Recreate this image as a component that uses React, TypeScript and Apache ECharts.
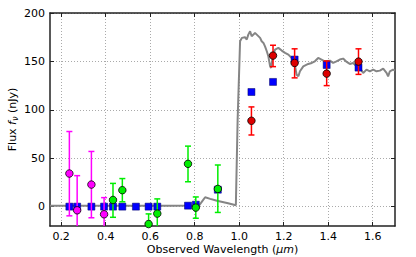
import React, { useEffect, useRef } from "react";
import * as echarts from "echarts";

// Grey model spectrum
const specX = [0.15, 0.3, 0.5, 0.7, 0.82, 0.835, 0.847, 0.87, 0.9, 0.95, 0.985, 0.993, 1.004, 1.012, 1.026, 1.034, 1.041, 1.049, 1.056, 1.064, 1.071, 1.079, 1.094, 1.101, 1.109, 1.116, 1.124, 1.131, 1.139, 1.143, 1.151, 1.161, 1.176, 1.191, 1.206, 1.221, 1.236, 1.251, 1.258, 1.266, 1.273, 1.288, 1.31, 1.326, 1.34, 1.355, 1.37, 1.385, 1.408, 1.422, 1.437, 1.452, 1.467, 1.483, 1.497, 1.512, 1.527, 1.542, 1.557, 1.572, 1.587, 1.602, 1.617, 1.632, 1.647, 1.662, 1.669, 1.677, 1.691, 1.7];
const specY = [1, 1, 1, 1, 1.2, 6, 9.7, 8, 6, 3.5, 1.5, 90, 170.8, 174.3, 175, 172.6, 177.7, 181.2, 176, 177.7, 179.5, 177.7, 174.3, 170.8, 169.1, 165.6, 160.5, 155.3, 144.9, 143.3, 155.3, 162.2, 164, 161.2, 158.8, 157, 153.6, 144.9, 136.3, 134.6, 139.8, 144.9, 147.4, 148.4, 150.1, 153.6, 151.9, 150.1, 150.8, 148.4, 150.1, 151.9, 152.9, 149.5, 147.4, 148.4, 144.9, 143.3, 138.1, 141.5, 139.8, 141.5, 139.8, 140.5, 142.5, 138.1, 134.6, 139.8, 141.5, 140.5];

// Model photometry (blue squares)
const blueX = [0.237, 0.272, 0.336, 0.393, 0.433, 0.475, 0.536, 0.593, 0.632, 0.77, 0.805, 0.904, 1.055, 1.152, 1.249, 1.393, 1.536];
const blueY = [0, 0, 0, 0, 0, 0, 0, 0, 0, 1, 2, 17.5, 118.4, 128.8, 151.9, 146.3, 143.6];

// Magenta observations
const magX = [0.237, 0.272, 0.336, 0.393];
const magY = [34.2, -3.8, 22.8, -7.9];
const magLo = [-9.5, -40, -11.5, -25];
const magHi = [77.6, 32, 57, 9.3];

// Green observations
const grnX = [0.433, 0.475, 0.593, 0.632, 0.77, 0.805, 0.904];
const grnY = [6.9, 17, -18, -7.2, 44.2, -1, 18.3];
const grnLo = [-11, 5, -28.5, -22, 25.7, -12, -6];
const grnHi = [24, 29, -7.5, 8, 62.5, 10, 43];

// Red observations
const redX = [1.055, 1.152, 1.249, 1.393, 1.536];
const redY = [88.7, 156, 148.4, 137.4, 149.8];
const redLo = [74, 144.6, 133, 125, 136.6];
const redHi = [103, 166.7, 163, 150.5, 163];

const xTicks = [0.2, 0.4, 0.6, 0.8, 1.0, 1.2, 1.4, 1.6];
const yTicks = [0, 50, 100, 150, 200];

const FONT = "DejaVu Sans";

function errSeries(xs: number[], lo: number[], hi: number[], color: string) {
  return {
    type: "custom",
    clip: true,
    z: 3,
    encode: { x: 0, y: [1, 2] },
    data: xs.map((x, i) => [x, lo[i], hi[i]]),
    renderItem: (params: any, api: any) => {
      const x = api.value(0);
      const p1 = api.coord([x, api.value(1)]);
      const p2 = api.coord([x, api.value(2)]);
      const c = 3;
      const st = { stroke: color, lineWidth: 1.5 };
      return {
        type: "group",
        children: [
          { type: "line", shape: { x1: p1[0], y1: p1[1], x2: p2[0], y2: p2[1] }, style: st },
          { type: "line", shape: { x1: p1[0] - c, y1: p1[1], x2: p1[0] + c, y2: p1[1] }, style: st },
          { type: "line", shape: { x1: p2[0] - c, y1: p2[1], x2: p2[0] + c, y2: p2[1] }, style: st },
        ],
      };
    },
  };
}

function dotSeries(xs: number[], ys: number[], color: string) {
  return {
    type: "scatter",
    clip: true,
    z: 4,
    symbol: "circle",
    symbolSize: 7.5,
    itemStyle: { color, borderColor: "#000", borderWidth: 0.8, opacity: 1 },
    data: xs.map((x, i) => [x, ys[i]]),
  };
}

export default function App() {
  const ref = useRef<HTMLDivElement>(null);
  useEffect(() => {
    if (!ref.current) return;
    const chart = echarts.init(ref.current, null, { renderer: "svg" });
    const axisLine = { show: true, onZero: false, lineStyle: { color: "#222", width: 1.5 } };
    const xTick = { show: true, inside: true, length: 4, customValues: xTicks, lineStyle: { color: "#222" } };
    const yTick = { show: true, inside: true, length: 4, customValues: yTicks, lineStyle: { color: "#222" } };
    const split = { show: true, lineStyle: { color: "#aaa", type: [1, 2], width: 1 } };
    chart.setOption({
      animation: false,
      grid: { left: 50, right: 21, top: 13, bottom: 31, outerBoundsMode: "none", containLabel: false },
      xAxis: [
        {
          type: "value",
          min: 0.15,
          max: 1.7,
          axisLine,
          axisTick: xTick,
          splitLine: split,
          axisLabel: {
            customValues: xTicks,
            formatter: (v: number) => v.toFixed(1),
            color: "#000",
            fontFamily: FONT,
            fontSize: 11,
            margin: 5,
          },
          name: "Observed Wavelength ({i|μm})",
          nameLocation: "middle",
          nameGap: 17,
          nameMoveOverlap: false,
          nameTextStyle: {
            color: "#000",
            fontFamily: FONT,
            fontSize: 11,
            lineHeight: 12,
            verticalAlign: "top",
            rich: { i: { fontStyle: "italic", fontFamily: FONT, fontSize: 11, lineHeight: 12, color: "#000" } },
          },
        },
        {
          type: "value",
          position: "top",
          min: 0.15,
          max: 1.7,
          axisLine,
          axisTick: xTick,
          splitLine: { show: false },
          axisLabel: { show: false, customValues: xTicks },
        },
      ],
      yAxis: [
        {
          type: "value",
          min: -20,
          max: 200,
          axisLine,
          axisTick: yTick,
          splitLine: split,
          axisLabel: {
            customValues: yTicks,
            color: "#000",
            fontFamily: FONT,
            fontSize: 11,
            margin: 5,
          },
          name: "Flux {i|f}{s|ν} (nJy)",
          nameLocation: "middle",
          nameGap: 31,
          nameMoveOverlap: false,
          nameTextStyle: {
            color: "#000",
            fontFamily: FONT,
            fontSize: 11,
            rich: {
              i: { fontStyle: "italic", fontFamily: FONT, fontSize: 11, color: "#000" },
              s: { fontStyle: "italic", fontFamily: FONT, fontSize: 8, color: "#000", padding: [5, 0, 0, 0] },
            },
          },
        },
        {
          type: "value",
          position: "right",
          min: -20,
          max: 200,
          axisLine,
          axisTick: yTick,
          splitLine: { show: false },
          axisLabel: { show: false, customValues: yTicks },
        },
      ],
      series: [
        {
          type: "line",
          z: 1,
          showSymbol: false,
          symbol: "none",
          clip: true,
          lineStyle: { color: "#858585", width: 2 },
          data: specX.map((x, i) => [x, specY[i]]),
        },
        {
          type: "scatter",
          z: 2,
          clip: true,
          symbol: "rect",
          symbolSize: 7,
          itemStyle: { color: "#0000ff", borderColor: "#000060", borderWidth: 0.5, opacity: 1 },
          data: blueX.map((x, i) => [x, blueY[i]]),
        },
        errSeries(magX, magLo, magHi, "#ff00ff"),
        errSeries(grnX, grnLo, grnHi, "#00ee00"),
        errSeries(redX, redLo, redHi, "#ff0000"),
        dotSeries(magX, magY, "#ff00ff"),
        dotSeries(grnX, grnY, "#00ee00"),
        dotSeries(redX, redY, "#dd0000"),
      ],
    });
    return () => chart.dispose();
  }, []);
  return (
    <div
      ref={ref}
      style={{ position: "fixed", left: 0, top: 0, width: 416, height: 257, background: "#fff" }}
    />
  );
}
